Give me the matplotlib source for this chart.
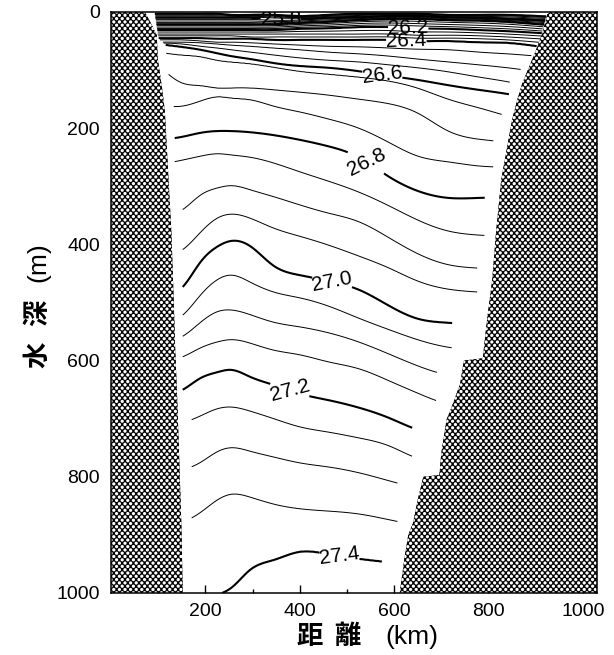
import numpy as np
import matplotlib
matplotlib.use("Agg")
import matplotlib.pyplot as plt

plt.rcParams['font.family'] = ['Liberation Sans', 'DejaVu Sans']

# stations along the section (km)
station_km = np.array([100, 150, 190, 225, 255, 295, 345, 400, 460, 525,
                       590, 650, 715, 780, 840, 905])

# isopycnal levels (sigma-theta) and their depth (m) at each station
sigma_levels = np.array([25.6, 25.8, 26.0, 26.2, 26.3, 26.35, 26.4, 26.45,
                         26.5, 26.55, 26.6, 26.65, 26.7, 26.75, 26.8, 26.85,
                         26.9, 26.95, 27.0, 27.05, 27.1, 27.15, 27.2, 27.25,
                         27.3, 27.35, 27.4])
iso_depth = np.array([
    [3, 3, 3, 3, 5, 5, 5, 7, 5, 3, 3, 3, 5, 5, 5, 7],
    [10, 10, 10, 10, 10, 10, 12, 12, 10, 9, 7, 7, 9, 10, 12, 14],
    [21, 21, 21, 21, 21, 21, 21, 19, 17, 14, 12, 12, 14, 15, 17, 21],
    [31, 31, 31, 31, 31, 31, 31, 29, 28, 26, 26, 28, 29, 31, 33, 36],
    [38, 38, 38, 38, 38, 38, 38, 38, 38, 38, 38, 40, 40, 41, 43, 46],
    [41, 41, 41, 41, 41, 43, 43, 43, 43, 43, 43, 45, 45, 46, 48, 52],
    [45, 45, 45, 46, 46, 46, 48, 48, 48, 48, 48, 50, 50, 52, 53, 59],
    [48, 48, 50, 52, 52, 53, 55, 57, 59, 60, 62, 64, 65, 69, 72, 76],
    [52, 52, 53, 55, 57, 59, 62, 65, 69, 72, 76, 81, 86, 91, 96, 103],
    [53, 55, 59, 62, 65, 69, 74, 79, 83, 86, 91, 96, 103, 112, 120, 131],
    [55, 60, 65, 71, 76, 81, 88, 93, 96, 102, 110, 117, 126, 134, 141, 151],
    [69, 74, 77, 83, 86, 89, 95, 102, 107, 112, 119, 131, 150, 165, 179, 193],
    [91, 122, 127, 131, 131, 131, 134, 138, 143, 150, 158, 174, 205, 219, 225, 238],
    [160, 162, 153, 146, 148, 151, 162, 172, 184, 200, 225, 248, 258, 265, 268, 275],
    [220, 215, 208, 205, 205, 207, 212, 220, 231, 250, 284, 308, 320, 320, 320, 324],
    [263, 255, 248, 244, 246, 250, 260, 275, 291, 310, 334, 358, 377, 384, 387, 392],
    [349, 341, 315, 303, 299, 306, 318, 332, 346, 361, 389, 416, 435, 441, 444, 447],
    [418, 410, 379, 355, 348, 355, 372, 386, 401, 420, 441, 463, 477, 482, 485, 489],
    [487, 475, 430, 404, 394, 403, 437, 453, 463, 478, 506, 528, 535, 539, 542, 547],
    [534, 523, 487, 461, 453, 465, 482, 492, 506, 527, 547, 564, 577, 582, 585, 590],
    [568, 559, 534, 516, 513, 521, 534, 542, 552, 568, 589, 609, 625, 630, 633, 639],
    [602, 594, 578, 568, 564, 570, 582, 590, 602, 614, 635, 656, 675, 681, 685, 690],
    [659, 651, 630, 620, 616, 628, 642, 657, 668, 681, 699, 719, 730, 737, 742, 747],
    [711, 707, 695, 683, 680, 687, 700, 714, 723, 733, 747, 768, 775, 780, 783, 788],
    [792, 788, 775, 757, 750, 756, 766, 776, 783, 793, 807, 819, 826, 831, 835, 840],
    [883, 878, 861, 840, 830, 835, 847, 855, 859, 864, 874, 883, 888, 892, 895, 900],
    [1029, 1021, 1012, 1003, 991, 960, 943, 929, 933, 941, 947, 952, 957, 960, 964, 967],
], dtype=float)

# extent of observations (where the isopycnals stop)
data_left_m = [0, 45, 57, 91, 165, 265, 300, 660, 690, 1000]
data_left_km = [92, 100, 116, 118, 133, 135, 152, 152, 171, 171]
data_right_m = [0, 48, 74, 100, 120, 139, 177, 224, 267, 318, 384, 439, 482,
                535, 577, 623, 671, 716, 766, 812, 878, 945, 1000]
data_right_km = [925, 910, 892, 868, 845, 845, 828, 810, 810, 792, 792, 776, 776,
                 723, 723, 689, 689, 638, 638, 607, 607, 575, 570]

# bottom topography (coast lines)
left_coast_km = [72, 88, 97, 99, 108, 114, 120, 128, 133, 136, 140, 145, 149, 152]
left_coast_m = [0, 25, 40, 80, 130, 170, 260, 380, 500, 580, 660, 780, 880, 1000]
right_coast_km = [930, 924, 915, 901, 886, 872, 861, 850, 838, 827, 816, 808, 797,
                  788, 748, 740, 722, 711, 700, 696, 662, 650, 640, 630, 622, 612]
right_coast_m = [0, 5, 35, 65, 95, 122, 151, 186, 240, 289, 380, 461, 530,
                 596, 600, 640, 680, 702, 760, 797, 800, 840, 880, 900, 940, 1000]

label_levels = [25.8, 26.2, 26.4, 26.6, 26.8, 27.0, 27.2, 27.4]
label_pos = [(360, 11), (630, 27), (626, 48), (575, 107), (541, 258),
             (469, 463), (378, 654), (484, 938)]


def natural_spline(xk, yk, xf):
    # natural cubic spline, yk has shape (n, m)
    n = len(xk)
    h = np.diff(xk)
    A = np.zeros((n, n))
    r = np.zeros((n, yk.shape[1]))
    A[0, 0] = A[-1, -1] = 1
    for i in range(1, n - 1):
        A[i, i - 1] = h[i - 1]
        A[i, i] = 2 * (h[i - 1] + h[i])
        A[i, i + 1] = h[i]
        r[i] = 3 * ((yk[i + 1] - yk[i]) / h[i] - (yk[i] - yk[i - 1]) / h[i - 1])
    c = np.linalg.solve(A, r)
    b = (yk[1:] - yk[:-1]) / h[:, None] - h[:, None] * (2 * c[:-1] + c[1:]) / 3
    d = (c[1:] - c[:-1]) / (3 * h[:, None])
    idx = np.clip(np.searchsorted(xk, xf) - 1, 0, n - 2)
    dx = (xf - xk[idx])[:, None]
    return yk[idx] + b[idx] * dx + c[idx] * dx ** 2 + d[idx] * dx ** 3


# density field on a fine grid
xf = np.arange(80, 941, 1.0)
zf = np.arange(0, 1001, 1.0)
dep = natural_spline(station_km.astype(float), iso_depth.T, xf)
dep = np.clip(dep, 0.5, None)
dep = np.maximum.accumulate(dep + np.arange(len(sigma_levels)) * 1e-3, axis=1)
sig = np.empty((len(zf), len(xf)))
for j in range(len(xf)):
    sig[:, j] = np.interp(zf, np.r_[0, dep[j], 1200], np.r_[25.5, sigma_levels, 27.45])

X, Z = np.meshgrid(xf, zf)
lo = np.interp(Z, data_left_m, data_left_km)
hi = np.interp(Z, data_right_m, data_right_km)
sig = np.ma.masked_where((X < lo) | (X > hi), sig)

fig = plt.figure(figsize=(6.14, 6.55), dpi=100)
ax = fig.add_axes([0.1808, 0.0947, 0.7915, 0.887])

levels = np.round(np.arange(25.6, 27.401, 0.05), 2)
is_label = np.array([np.min(np.abs(np.array(label_levels) - l)) < 1e-6 for l in levels])
is_bold = np.array([abs(l * 5 - round(l * 5)) < 1e-6 for l in levels])
thin = levels[~is_label & ~is_bold]
bold = levels[~is_label & is_bold]
ax.contour(xf, zf, sig, levels=thin, colors='black', linewidths=0.7)
ax.contour(xf, zf, sig, levels=bold, colors='black', linewidths=1.5)
cs = ax.contour(xf, zf, sig, levels=levels[is_label], colors='black', linewidths=1.5)
ax.clabel(cs, manual=label_pos, fmt='%.1f', fontsize=15,
          inline=True, inline_spacing=4)

ax.set_xlim(0, 1030)
ax.set_ylim(1000, 0)

# land: black with a staggered pattern of white dots
land_l = ax.fill(np.r_[-10, left_coast_km, -10], np.r_[-10, left_coast_m, 1010],
                 facecolor='black', linewidth=0, zorder=3)[0]
land_r = ax.fill(np.r_[1040, right_coast_km, 1040], np.r_[-10, right_coast_m, 1010],
                 facecolor='black', linewidth=0, zorder=3)[0]
w_px, h_px = 486, 581
cc, rr = np.meshgrid(np.arange(w_px) + 0.5, np.arange(h_px) + 0.5)
px, py = 5.6, 6.6
d1 = np.hypot((cc % px) - px / 2, (rr % py) - py / 2)
d2 = np.hypot(((cc + px / 2) % px) - px / 2, ((rr + py / 2) % py) - py / 2)
dots = np.clip(2.1 - np.minimum(d1, d2), 0, 1)
tex = np.dstack([dots, dots, dots])
for land in (land_l, land_r):
    im = ax.imshow(tex, extent=(0, 1030, 1000, 0), interpolation='nearest',
                   aspect='auto', zorder=3.1)
    im.set_clip_path(land)
ax.set_xlim(0, 1030)
ax.set_ylim(1000, 0)

ax.set_xticks([200, 400, 600, 800, 1000])
ax.set_xticks([100, 300, 500, 700, 900], minor=True)
ax.set_yticks([0, 200, 400, 600, 800, 1000])
ax.tick_params(axis='x', which='major', direction='in', length=6, width=1,
               labelsize=14, pad=7)
ax.tick_params(axis='x', which='minor', direction='in', length=3, width=1)
ax.tick_params(axis='y', length=0, labelsize=14, pad=8)
for s in ax.spines.values():
    s.set_linewidth(1.1)
    s.set_zorder(4)

cjk = ['Noto Sans CJK JP', 'DejaVu Sans']
fig.text(310 / 614, 1 - 637 / 655, '距', family=cjk, weight='bold', fontsize=19,
         ha='center', va='center')
fig.text(347 / 614, 1 - 637 / 655, '離', family=cjk, weight='bold', fontsize=19,
         ha='center', va='center')
fig.text(412 / 614, 1 - 637 / 655, '(km)', fontsize=19, ha='center', va='center')
fig.text(38 / 614, 1 - 355 / 655, '水', family=cjk, weight='bold', fontsize=19,
         rotation=90, ha='center', va='center')
fig.text(38 / 614, 1 - 313 / 655, '深', family=cjk, weight='bold', fontsize=19,
         rotation=90, ha='center', va='center')
fig.text(38 / 614, 1 - 262 / 655, '(m)', fontsize=19, rotation=90,
         ha='center', va='center')

fig.savefig('out.png', dpi=100)
